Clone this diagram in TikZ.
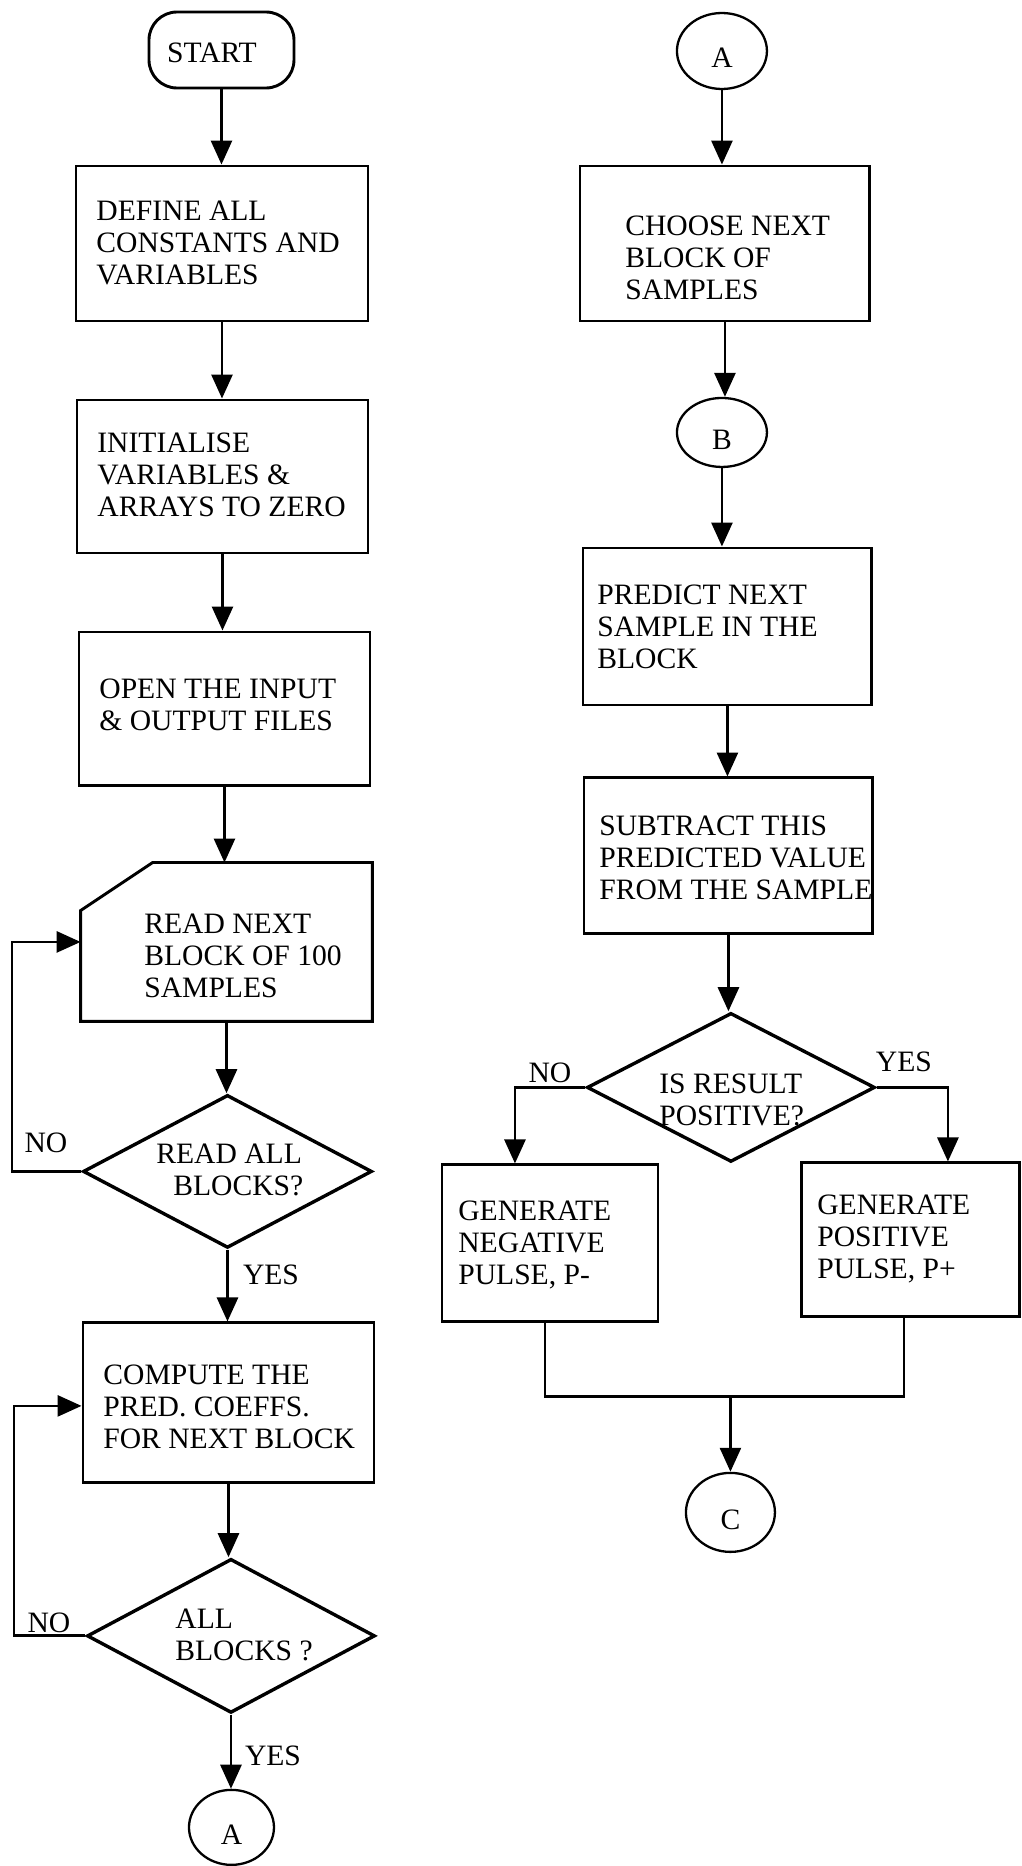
\documentclass[tikz,border=0pt]{standalone}
\usepackage{fontspec}
\setmainfont{Liberation Serif}
\usetikzlibrary{arrows.meta,shapes.geometric}
\begin{document}
\begin{tikzpicture}[x=0.5pt,y=-0.5pt,
  txt/.style={inner sep=0pt, align=left, font=\fontsize{14.8pt}{16pt}\selectfont},
  procbox/.style={draw, line width=1.45pt, inner sep=0pt},
  decision/.style={diamond, draw, line width=1.7pt, inner sep=0pt},
  connector/.style={draw, ellipse, line width=1.15pt, inner sep=0pt,
    font=\fontsize{14.8pt}{16pt}\selectfont, text height=17pt, text depth=0pt},
  flow/.style={line width=1.4pt},
  flowarrow/.style={flow, -{Triangle[length=12pt,width=10.5pt]}},
]
% page
\path[fill=white] (0,0) rectangle (1016,1866);

% ---------------- left column ----------------
\node[procbox, rounded corners=14pt, minimum width=72.5pt, minimum height=38pt] (start) at (221.5,50) {};
\node[txt] (tstart) at (212,53) {START};

\node[procbox, minimum width=146pt, minimum height=77.5pt] (define) at (222,243.5) {};
\node[txt, anchor=west] (tdefine) at (96,243) {DEFINE ALL\\CONSTANTS AND\\VARIABLES};

\node[procbox, minimum width=145.5pt, minimum height=76.5pt] (init) at (222.5,476.5) {};
\node[txt, anchor=west] (tinit) at (97,475) {INITIALISE\\VARIABLES \&\\ARRAYS TO ZERO};

\node[procbox, minimum width=145.5pt, minimum height=77pt] (open) at (224.5,709) {};
\node[txt, anchor=west] (topen) at (99,705) {OPEN THE INPUT\\\& OUTPUT FILES};

% input block with the cut top-left corner
\node[inner sep=0pt, minimum width=145.5pt, minimum height=79pt] (read) at (226.5,942) {};
\draw[line width=1.45pt, line join=miter] ([xshift=36pt]read.north west) -- (read.north east)
  -- (read.south east) -- (read.south west) -- ([yshift=-24pt]read.north west) -- cycle;
\node[txt, anchor=west] (tread) at (144,956) {READ NEXT\\BLOCK OF 100\\SAMPLES};

\node[decision, minimum width=144.5pt, minimum height=76.5pt] (dread) at (227.5,1171.5) {};
\node[txt, anchor=west] (tdread) at (156,1170) {READ ALL\\\hspace*{8.5pt}BLOCKS?};

\node[procbox, minimum width=145.5pt, minimum height=80pt] (compute) at (228.5,1403) {};
\node[txt, anchor=west] (tcompute) at (103,1407) {COMPUTE THE\\PRED. COEFFS.\\FOR NEXT BLOCK};

\node[decision, minimum width=144pt, minimum height=77pt] (dall) at (231,1636) {};
\node[txt, anchor=west] (tdall) at (175,1635) {ALL\\BLOCKS ?};

\node[connector, minimum width=42.5pt, minimum height=37.5pt] (aout) at (231.5,1827.5) {A};

% left column flow
\draw[flowarrow] (start.south) -- (start.south |- define.north);
\draw[flowarrow] (define.south) -- (define.south |- init.north);
\draw[flowarrow] (init.south) -- (init.south |- open.north);
\draw[flowarrow] (open.south) -- (open.south |- read.north);
\draw[flowarrow] (read.south) -- (read.south |- dread.north);
\draw[flowarrow] (dread.south) -- (dread.south |- compute.north);
\draw[flowarrow] (compute.south) -- (compute.south |- dall.north);
\draw[flowarrow] (dall.south) -- (dall.south |- aout.north);

\coordinate (loopa) at (12,942);
\draw[flowarrow] (dread.west) -| (loopa) -- (loopa -| read.west);
\coordinate (loopb) at (14,1406);
\draw[flowarrow] (dall.west) -| (loopb) -- (loopb -| compute.west);

\node[txt] (nread) at (46,1143) {NO};
\node[txt] (yread) at (271,1275) {YES};
\node[txt] (nall) at (49,1623) {NO};
\node[txt] (yall) at (273,1756) {YES};

% ---------------- right column ----------------
\node[connector, minimum width=45pt, minimum height=38pt] (ain) at (722,51) {A};

\node[procbox, minimum width=145pt, minimum height=77.5pt] (choose) at (725,243.5) {};
\node[txt, anchor=west] (tchoose) at (625,258) {CHOOSE NEXT\\BLOCK OF\\SAMPLES};

\node[connector, minimum width=45pt, minimum height=34.5pt] (b) at (722,432.5) {B};

\node[procbox, minimum width=144.5pt, minimum height=78.5pt] (predict) at (727.5,626.5) {};
\node[txt, anchor=west] (tpredict) at (597,627) {PREDICT NEXT\\SAMPLE IN THE\\BLOCK};

\node[procbox, minimum width=144.5pt, minimum height=78pt] (subtract) at (728.5,856) {};
\node[txt, anchor=west] (tsubtract) at (599,858) {SUBTRACT THIS\\PREDICTED VALUE\\FROM THE SAMPLE};

\node[decision, minimum width=144pt, minimum height=74.5pt] (dres) at (731,1087.5) {};
\node[txt, anchor=west] (tdres) at (659,1100) {IS RESULT\\POSITIVE?};

\node[procbox, minimum width=108pt, minimum height=78.5pt] (neg) at (550,1243.5) {};
\node[txt, anchor=west] (tneg) at (458,1245) {GENERATE\\NEGATIVE\\PULSE, P-};

\node[procbox, minimum width=109pt, minimum height=77pt] (pos) at (911,1240) {};
\node[txt, anchor=west] (tpos) at (817,1239) {GENERATE\\POSITIVE\\PULSE, P+};

\node[connector, minimum width=44.5pt, minimum height=39.5pt] (c) at (730.5,1512.5) {C};

% right column flow
\draw[flowarrow] (ain.south) -- (ain.south |- choose.north);
\draw[flowarrow] (choose.south) -- (choose.south |- b.north);
\draw[flowarrow] (b.south) -- (b.south |- predict.north);
\draw[flowarrow] (predict.south) -- (predict.south |- subtract.north);
\draw[flowarrow] (subtract.south) -- (subtract.south |- dres.north);
\draw[flowarrow] (dres.west) -| ([xshift=-17.5pt]neg.north);
\draw[flowarrow] (dres.east) -| ([xshift=18.5pt]pos.north);
\draw[flow] ([xshift=-2.5pt]neg.south) -- ++(0,73) -| ([xshift=-3.5pt]pos.south);
\coordinate (join) at (730.5,1395.5);
\draw[flowarrow] (join) -- (c.north);

\node[txt] (nres) at (550,1073) {NO};
\node[txt] (yres) at (904,1062) {YES};
\end{tikzpicture}
\end{document}
